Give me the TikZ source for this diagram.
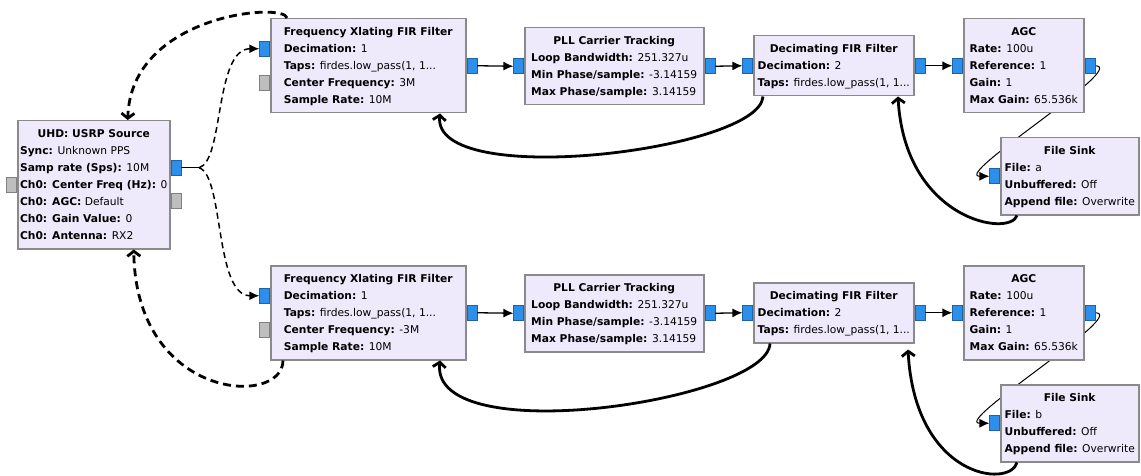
\documentclass[tikz,border=0pt]{standalone}
\usepackage{fontspec}
\setmainfont{DejaVu Sans}
\usetikzlibrary{arrows.meta,backgrounds}

\definecolor{blockfill}{HTML}{EEEAFC}
\definecolor{blockline}{HTML}{8A8A8A}
\definecolor{portblue}{HTML}{2B8FEB}
\definecolor{portgrey}{HTML}{BEBEBE}

% block title and one "key: value" line
\newcommand{\blkname}[1]{\multicolumn{1}{@{}c@{}}{\textbf{#1}}}
\newcommand{\blkparam}[2]{\textbf{#1:} #2}

\begin{document}
\begin{tikzpicture}[x=1pt,y=-1pt,
    block/.style={draw=blockline,line width=1.5pt,fill=blockfill,anchor=north west,
      inner xsep=0pt,inner ysep=4.5pt,font=\fontsize{10.7}{17}\selectfont},
    port/.style={draw=portblue!70!black,fill=portblue,line width=0.6pt,
      inner sep=0pt,minimum width=10pt,minimum height=15pt},
    msgport/.style={port,draw=gray,fill=portgrey},
    conn/.style={line width=1.3pt,-{Latex[length=10pt,width=9pt]}},
    stub/.style={line width=1.3pt},
    link/.style={line width=1.5pt,dash pattern=on 6pt off 4pt},
    note/.style={line width=2.8pt,-{Straight Barb[length=5pt,width=13pt]}},
    dashnote/.style={note,dash pattern=on 8pt off 5pt}]
  \useasboundingbox (0,0) rectangle (1141,476);

  % source
  \node[block,minimum width=152pt] (src) at (17,120) {\begin{tabular}{@{}l@{}}
      \blkname{UHD: USRP Source}\\
      \blkparam{Sync}{Unknown PPS}\\
      \blkparam{Samp rate (Sps)}{10M}\\
      \blkparam{Ch0: Center Freq (Hz)}{0}\\
      \blkparam{Ch0: AGC}{Default}\\
      \blkparam{Ch0: Gain Value}{0}\\
      \blkparam{Ch0: Antenna}{RX2}
    \end{tabular}};
  \node[port,anchor=west] (src-out) at ([yshift=17pt]src.east) {};
  \node[msgport,anchor=west] (src-ctl) at ([yshift=-16.5pt]src.east) {};
  \node[msgport,anchor=east] (src-cmd) at (src.west) {};
  \coordinate (fork) at ([xshift=18pt]src-out.east);

  % two identical chains, one per channel
  \foreach \r/\dy/\cf/\fn in {1/0/3M/a,2/247/-3M/b}{
    \node[block,minimum width=195pt] (fx\r) at (270,18+\dy) {\begin{tabular}{@{}l@{}}
        \blkname{Frequency Xlating FIR Filter}\\
        \blkparam{Decimation}{1}\\
        \blkparam{Taps}{firdes.low\_pass(1, 1...}\\
        \blkparam{Center Frequency}{\cf}\\
        \blkparam{Sample Rate}{10M}
      \end{tabular}};
    \node[block,minimum width=179pt] (pll\r) at (524,27+\dy) {\begin{tabular}{@{}l@{}}
        \blkname{PLL Carrier Tracking}\\
        \blkparam{Loop Bandwidth}{251.327u}\\
        \blkparam{Min Phase/sample}{-3.14159}\\
        \blkparam{Max Phase/sample}{3.14159}
      \end{tabular}};
    \node[block,minimum width=160pt] (dec\r) at (753,35+\dy) {\begin{tabular}{@{}l@{}}
        \blkname{Decimating FIR Filter}\\
        \blkparam{Decimation}{2}\\
        \blkparam{Taps}{firdes.low\_pass(1, 1...}
      \end{tabular}};
    \node[block,minimum width=120pt] (agc\r) at (963,18+\dy) {\begin{tabular}{@{}l@{}}
        \blkname{AGC}\\
        \blkparam{Rate}{100u}\\
        \blkparam{Reference}{1}\\
        \blkparam{Gain}{1}\\
        \blkparam{Max Gain}{65.536k}
      \end{tabular}};
    \node[block,minimum width=138pt] (fs\r) at (1000,137+\dy) {\begin{tabular}{@{}l@{}}
        \blkname{File Sink}\\
        \blkparam{File}{\fn}\\
        \blkparam{Unbuffered}{Off}\\
        \blkparam{Append file}{Overwrite}
      \end{tabular}};

    % ports
    \node[port,anchor=east] (fx\r-in) at ([yshift=17pt]fx\r.west) {};
    \node[msgport,anchor=east] (fx\r-freq) at ([yshift=-17pt]fx\r.west) {};
    \node[port,anchor=west] (fx\r-out) at (fx\r.east) {};
    \node[port,anchor=east] (pll\r-in) at (pll\r.west) {};
    \node[port,anchor=west] (pll\r-out) at (pll\r.east) {};
    \node[port,anchor=east] (dec\r-in) at (dec\r.west) {};
    \node[port,anchor=west] (dec\r-out) at (dec\r.east) {};
    \node[port,anchor=east] (agc\r-in) at (agc\r.west) {};
    \node[port,anchor=west] (agc\r-out) at (agc\r.east) {};
    \node[port,anchor=east] (fs\r-in) at (fs\r.west) {};

    % connections
    \draw[conn] (fx\r-out.east) -- (pll\r-in.west);
    \draw[conn] (pll\r-out.east) -- (dec\r-in.west);
    \draw[conn] (dec\r-out.east) -- (agc\r-in.west);
    \begin{scope}[on background layer]
      \draw[conn,line width=1pt] (agc\r-out.east) .. controls +(35,0) and +(-38,0) .. (fs\r-in.west);
    \end{scope}
  }

  % source feeds both chains
  \draw[stub] (src-out.east) -- (fork);
  \draw[link,-{Latex[length=10pt,width=9pt]}] (fork) .. controls +(25,-7) and +(-45,0) .. (fx1-in.west);
  \draw[link,-{Latex[length=10pt,width=9pt]}] (fork) .. controls +(25,8) and +(-45,0) .. (fx2-in.west);

  % hand drawn feedback marks
  \coordinate (fx1-top) at ([xshift=17pt]fx1.north west);
  \coordinate (src-top) at ([xshift=34pt]src.north);
  \coordinate (fx2-bot) at ([xshift=13pt]fx2.south west);
  \coordinate (src-bot) at ([xshift=40pt]src.south);
  \draw[dashnote] (fx1-top) .. controls +(-2,-16) and +(3,-106) .. (src-top);
  \draw[dashnote] (fx2-bot) .. controls +(0,47) and +(2,151) .. (src-bot);

  \coordinate (dec1-bot) at ([xshift=10pt]dec1.south west);
  \coordinate (fx1-mark) at ([xshift=170pt]fx1.south west);
  \coordinate (dec2-bot) at ([xshift=17pt]dec2.south west);
  \coordinate (fx2-mark) at ([xshift=170pt]fx2.south west);
  \draw[note] (dec1-bot) .. controls +(-3,54) and +(-8,77) .. (fx1-mark);
  \draw[note] (dec2-bot) .. controls +(-2,57) and +(-10,91) .. (fx2-mark);

  \coordinate (fs1-bot) at ([xshift=17pt]fs1.south west);
  \coordinate (dec1-mark) at ([xshift=145pt]dec1.south west);
  \coordinate (fs2-bot) at ([xshift=17pt]fs2.south west);
  \coordinate (dec2-mark) at ([xshift=155pt,yshift=-6pt]dec2.south west);
  \draw[note] (fs1-bot) .. controls +(-7,22) and +(7,124) .. (dec1-mark);
  \draw[note] (fs2-bot) .. controls +(-7,26) and +(7,129) .. (dec2-mark);
\end{tikzpicture}
\end{document}
